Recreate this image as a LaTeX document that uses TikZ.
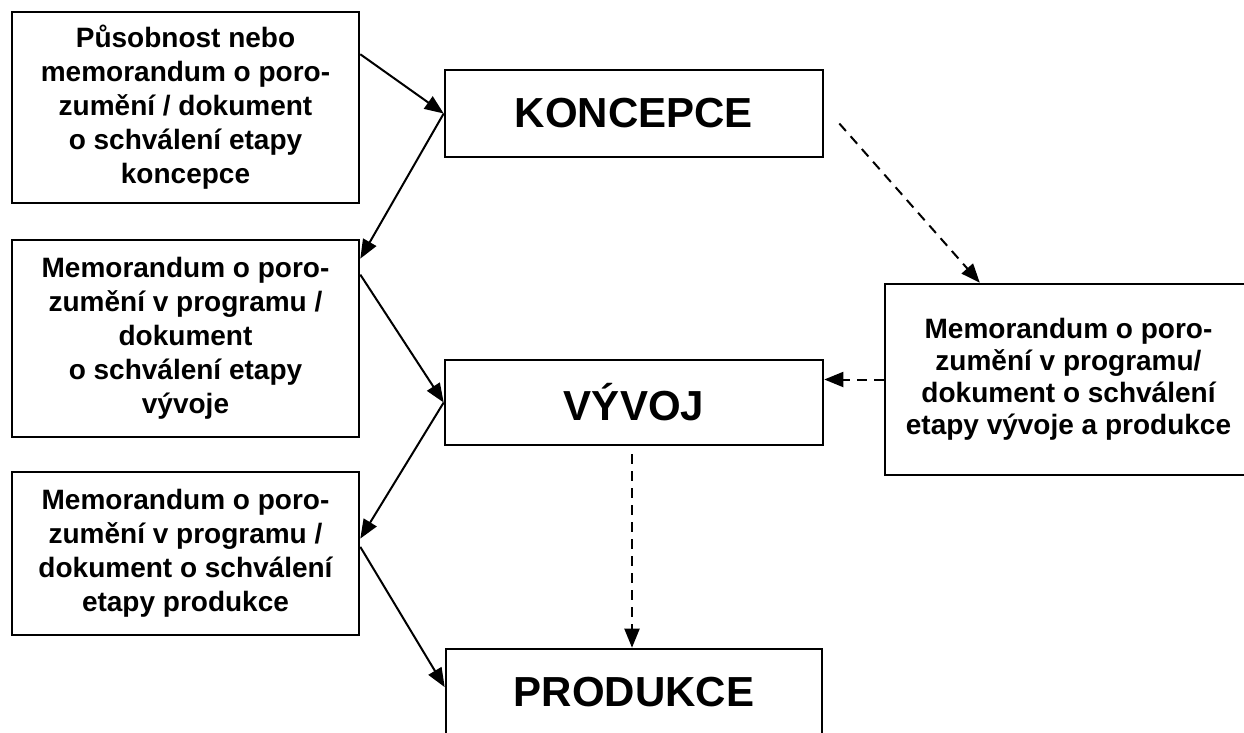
\documentclass[tikz,border=0pt]{standalone}
\usepackage{fontspec}
\setmainfont{Liberation Sans}
\usetikzlibrary{arrows.meta,calc}

\tikzset{
  memo/.style={draw, line width=2.6pt, rectangle, inner sep=0pt, align=center,
    font=\bfseries\fontsize{28}{34}\selectfont},
  phase/.style={draw, line width=2.6pt, rectangle, inner sep=0pt,
    font=\bfseries\fontsize{42}{48}\selectfont},
  flow/.style={line width=2pt, -{Triangle[length=19pt,width=15pt]}},
  dflow/.style={flow, dash pattern=on 10pt off 7pt},
}

\begin{document}
\begin{tikzpicture}[x=1pt, y=-1pt]
  \clip (0,0) rectangle (1244,733);

  % left column: approval documents
  \node[memo, minimum width=347pt, minimum height=191pt] (A) at (185.5,107.5)
    {Působnost nebo\\memorandum o poro-\\zumění / dokument\\o schválení etapy\\koncepce};
  \node[memo, minimum width=347pt, minimum height=197pt] (B) at (185.5,338.5)
    {Memorandum o poro-\\zumění v programu /\\dokument\\o schválení etapy\\vývoje};
  \node[memo, minimum width=347pt, minimum height=163pt] (C) at (185.5,553.5)
    {Memorandum o poro-\\zumění v programu /\\dokument o schválení\\etapy produkce};

  % middle column: phases
  \node[phase, minimum width=378pt, minimum height=87pt] (K) at (634,113.5) {KONCEPCE};
  \node[phase, minimum width=378pt, minimum height=85pt] (V) at (634,402.5) {VÝVOJ};
  \node[phase, minimum width=376pt, minimum height=87pt] (P) at (634,692.5) {PRODUKCE};

  % right: combined document
  \node[memo, font=\bfseries\fontsize{28}{32}\selectfont,
        minimum width=367pt, minimum height=191pt] (D) at (1068.5,379.5)
    {Memorandum o poro-\\zumění v programu/\\dokument o schválení\\etapy vývoje a produkce};

  % solid zig-zag flow
  \draw[flow] ($(A.north east)!0.225!(A.south east)$) -- (K.west);
  \draw[flow] (K.west) -- ($(B.north east)!0.10!(B.south east)$);
  \draw[flow] ($(B.north east)!0.18!(B.south east)$) -- (V.west);
  \draw[flow] (V.west) -- ($(C.north east)!0.41!(C.south east)$);
  \draw[flow] ($(C.north east)!0.46!(C.south east)$) -- ($(P.north west)!0.44!(P.south west)$);

  % dashed flow
  \coordinate (kd) at ($(K.east)+(15,10)$);
  \coordinate (vp) at ($(V.south)+(-2,8)$);
  \draw[dflow] (kd) -- ($(D.north west)!0.26!(D.north east)$);
  \draw[dflow] (D.west) -- (V.east |- D.west);
  \draw[dflow] (vp) -- ($(P.north)+(-2,0)$);
\end{tikzpicture}
\end{document}
